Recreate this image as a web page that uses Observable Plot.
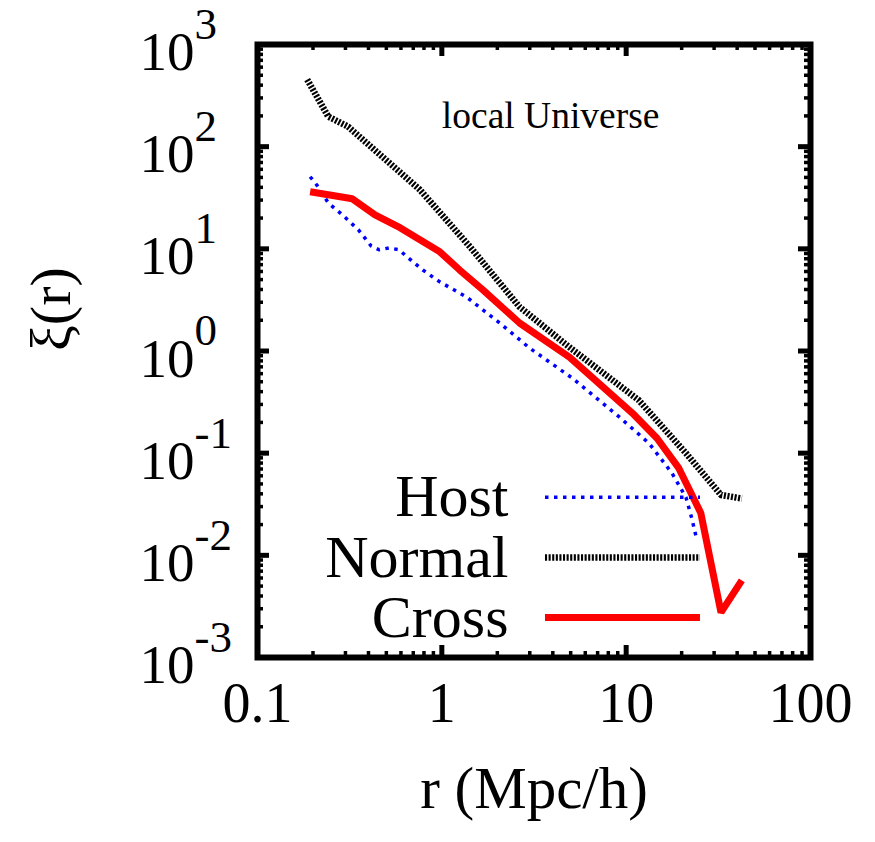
<!DOCTYPE html>
<html><head><meta charset="utf-8">
<script src="https://cdn.jsdelivr.net/npm/d3@7"></script>
<script src="https://cdn.jsdelivr.net/npm/@observablehq/plot@0.6"></script>
<style>html,body{margin:0;padding:0;background:#fff;}</style>
</head><body><div id="chart"></div>
<script>
// ---- data ----
const rHost  = [0.193, 0.211, 0.242, 0.292, 0.352, 0.413, 0.456, 0.517, 0.586, 0.647, 0.789, 0.975, 1.36, 2.06, 2.99, 5.1, 9.2, 13.3, 17.7, 21.1, 22.7, 24.0];
const xiHost = [50.8, 41.5, 28.2, 21.1, 15.4, 10.7, 9.8, 10.2, 9.8, 8.35, 6.2, 4.75, 3.38, 1.88, 1.07, 0.543, 0.225, 0.125, 0.064, 0.037, 0.023, 0.015];

const rNormal  = [0.186, 0.242, 0.310, 0.76, 1.42, 2.64, 4.92, 11.7, 21.1, 32.7, 42.4];
const xiNormal = [454, 197, 157, 37.9, 10.5, 2.70, 1.09, 0.33, 0.10, 0.039, 0.036];

const rCross  = [0.193, 0.327, 0.434, 0.593, 0.975, 1.25, 1.67, 2.64, 4.92, 10.8, 14.7, 19.3, 25.4, 32.7, 42.4];
const xiCross = [36.2, 30.9, 21.5, 16.1, 9.35, 6.2, 3.96, 1.88, 0.873, 0.247, 0.14, 0.0713, 0.026, 0.00276, 0.0057];

const seriesNames = ["Host", "Normal", "Cross"];
const xTickValues = [0.1, 1, 10, 100];
const xTickLabels = ["0.1", "1", "10", "100"];
const yTickValues = [1e3, 1e2, 1e1, 1e0, 1e-1, 1e-2, 1e-3];
const yTickExps   = ["3", "2", "1", "0", "-1", "-2", "-3"];
const annotation = "local Universe";
const xLabel = "r (Mpc/h)";
const yLabel = "ξ(r)";

// ---- layout ----
const W = 875, H = 842, mL = 257, mR = 65, mT = 44, mB = 185;
const innerW = W - mL - mR, innerH = H - mT - mB;
const majorLen = 12, minorLen = 6;
const font = "'Liberation Serif', 'Times New Roman', serif";
// legend placement (data units of the log axes)
const legendX = [3.65, 25.3];
const legendY = [0.037, 0.00955, 0.00247];
const legendTextX = 2.3;

const toRows = (rs, vs) => rs.map((r, i) => ({r, xi: vs[i]}));
const host = toRows(rHost, xiHost), normal = toRows(rNormal, xiNormal), cross = toRows(rCross, xiCross);

const minorOf = (decades) => decades.flatMap(d => d3.range(2, 10).map(k => k * d));
const xMinor = minorOf([0.1, 1, 10]);
const yMinor = minorOf([1e-3, 1e-2, 1e-1, 1, 10, 100]);

const styles = {
  Host:   {stroke: "#0000ff", strokeWidth: 3.5, strokeDasharray: "3.5,5.5", strokeLinecap: "butt"},
  Normal: {stroke: "#000000", strokeWidth: 6.5, strokeDasharray: "2.1,1.5", strokeLinecap: "butt"},
  Cross:  {stroke: "#ff0000", strokeWidth: 7, strokeLinecap: "butt", strokeLinejoin: "miter"}
};

const tickStyle = {stroke: "black"};
const chart = Plot.plot({
  width: W, height: H,
  marginLeft: mL, marginRight: mR, marginTop: mT, marginBottom: mB,
  x: {type: "log", domain: [0.1, 100], axis: null},
  y: {type: "log", domain: [1e-3, 1e3], axis: null},
  style: {fontFamily: font, background: "white", color: "black"},
  marks: [
    // ticks (inward, mirrored)
    Plot.ruleX(xTickValues, {x: d => d, insetTop: innerH - majorLen, strokeWidth: 5, ...tickStyle}),
    Plot.ruleX(xTickValues, {x: d => d, insetBottom: innerH - majorLen, strokeWidth: 5, ...tickStyle}),
    Plot.ruleX(xMinor, {x: d => d, insetTop: innerH - minorLen, strokeWidth: 3.5, ...tickStyle}),
    Plot.ruleX(xMinor, {x: d => d, insetBottom: innerH - minorLen, strokeWidth: 3.5, ...tickStyle}),
    Plot.ruleY(yTickValues, {y: d => d, insetRight: innerW - majorLen, strokeWidth: 5, ...tickStyle}),
    Plot.ruleY(yTickValues, {y: d => d, insetLeft: innerW - majorLen, strokeWidth: 5, ...tickStyle}),
    Plot.ruleY(yMinor, {y: d => d, insetRight: innerW - minorLen, strokeWidth: 3.5, ...tickStyle}),
    Plot.ruleY(yMinor, {y: d => d, insetLeft: innerW - minorLen, strokeWidth: 3.5, ...tickStyle}),

    // series
    Plot.line(host, {x: "r", y: "xi", ...styles.Host}),
    Plot.line(normal, {x: "r", y: "xi", ...styles.Normal}),
    Plot.line(cross, {x: "r", y: "xi", ...styles.Cross}),

    // legend
    ...seriesNames.map((name, i) => Plot.ruleY([legendY[i]], {x1: legendX[0], x2: legendX[1], ...styles[name]})),
    Plot.text(seriesNames, {x: () => legendTextX, y: (d, i) => legendY[i], text: d => d,
      textAnchor: "end", lineAnchor: "middle", dy: 0, fontSize: 60, fill: "black"}),

    // annotation
    Plot.text([annotation], {x: () => 1, y: () => 200, text: d => d, textAnchor: "start", fontSize: 37.5, fill: "black"}),

    // x tick labels
    Plot.text(xTickLabels, {x: (d, i) => xTickValues[i], text: d => d, frameAnchor: "bottom",
      dy: 64, fontSize: 56, fill: "black"}),
    // y tick labels: base and exponent
    Plot.text(yTickExps, {y: (d, i) => yTickValues[i], text: () => "10", frameAnchor: "left",
      textAnchor: "end", dx: -63, dy: 8, fontSize: 55, fill: "black"}),
    Plot.text(yTickExps, {y: (d, i) => yTickValues[i], text: d => d, frameAnchor: "left",
      textAnchor: "start", dx: -63, dy: -20, fontSize: 45, fill: "black"}),

    // axis titles
    Plot.text([xLabel], {text: d => d, frameAnchor: "bottom", dy: 150, fontSize: 59, fill: "black"}),
    Plot.text([yLabel], {text: d => d, frameAnchor: "left", dx: -206, rotate: -90, fontSize: 58, fill: "black"}),

    Plot.frame({stroke: "black", strokeWidth: 6})
  ]
});
document.getElementById("chart").appendChild(chart);
</script>
</body></html>
